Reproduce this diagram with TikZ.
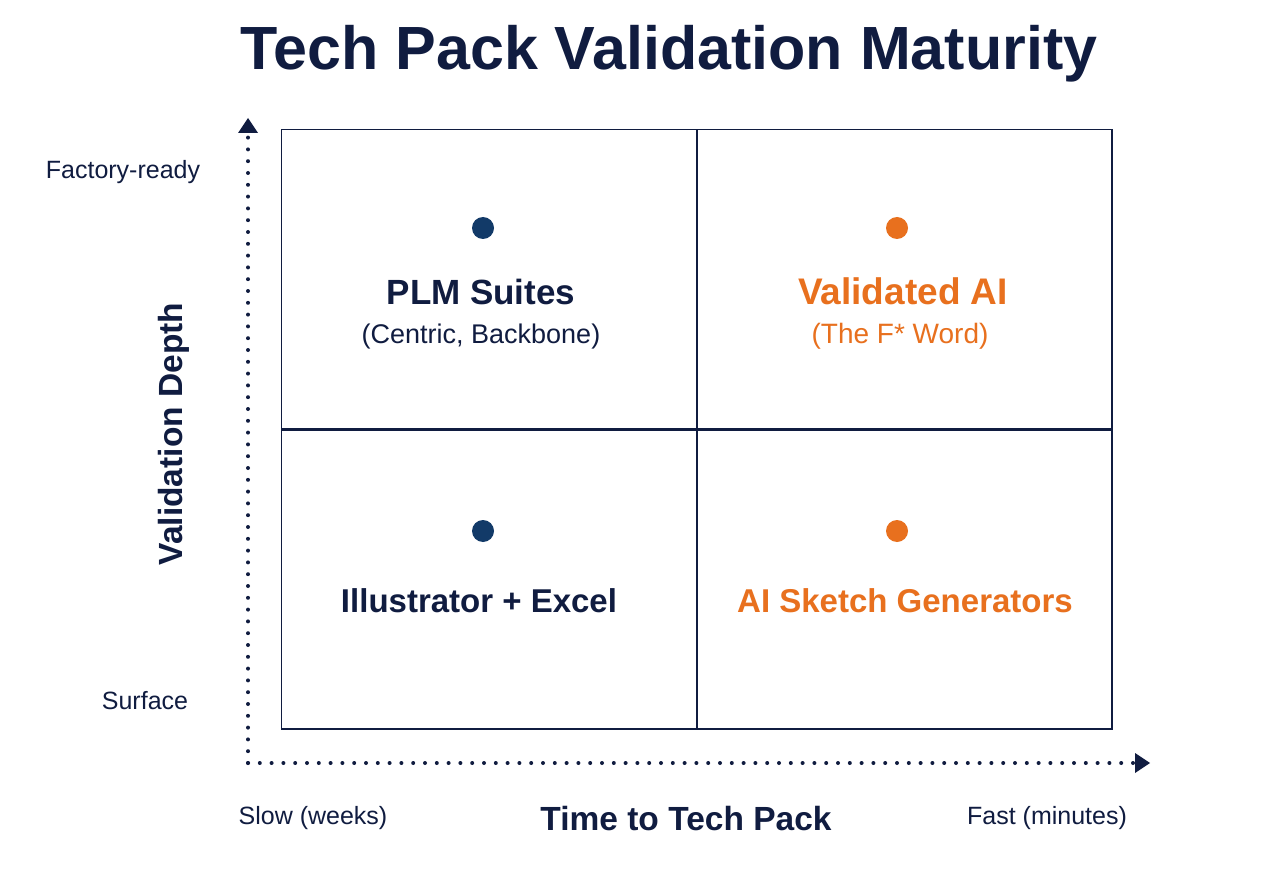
\documentclass[tikz,border=0pt]{standalone}
\usepackage{fontspec}
\setmainfont{Liberation Sans}
\usetikzlibrary{arrows.meta,positioning}
\definecolor{navy}{HTML}{101C40}
\definecolor{dotblue}{HTML}{123A68}
\definecolor{aiorange}{HTML}{E8701E}
\newcommand{\fsz}[1]{\fontsize{#1}{#1}\selectfont}

\begin{document}
\begin{tikzpicture}[x=1pt,y=-1pt,
  quad/.style={draw=navy, line width=1.4pt, minimum width=414.5pt, minimum height=299pt, inner sep=0pt},
  axis/.style={navy, line width=4pt, line cap=round, dash pattern=on 0pt off 11.8pt, -{Triangle[width=20pt,length=15pt,line width=0pt]}},
  bigdot/.style={circle, inner sep=0pt, minimum size=22pt},
  qlabel/.style={anchor=base, font=\fsz{35}\bfseries},
  qsub/.style={anchor=base, font=\fsz{27}},
  ticklab/.style={anchor=base, navy, font=\fsz{25}},
  axislab/.style={anchor=base, navy, font=\fsz{33.5}\bfseries}]
  \useasboundingbox [fill=white] (0,0) rectangle (1280,896);

  \node [anchor=base, navy, font=\fsz{61}\bfseries] (title) at (669,70) {Tech Pack Validation Maturity};

  \node [quad, anchor=north west] (tl) at (281,129) {};
  \node [quad, anchor=west] (tr) at (tl.east) {};
  \node [quad, anchor=north] (bl) at (tl.south) {};
  \node [quad, anchor=west] (br) at (bl.east) {};

  \node [bigdot, fill=dotblue]  (dtl) at (483,228) {};
  \node [bigdot, fill=aiorange] (dtr) at (897,228) {};
  \node [bigdot, fill=dotblue]  (dbl) at (483,531) {};
  \node [bigdot, fill=aiorange] (dbr) at (897,531) {};

  \node [qlabel, navy] (plm) at (481,305) {PLM Suites};
  \node [qsub, navy] (plmsub) at (481,343) {(Centric, Backbone)};
  \node [qlabel, aiorange, font=\fsz{37}\bfseries] (vai) at (903,305) {Validated AI};
  \node [qsub, aiorange, font=\fsz{28}] (vaisub) at (900,343) {(The F* Word)};
  \node [qlabel, navy, font=\fsz{33}\bfseries] (ill) at (479,612) {Illustrator + Excel};
  \node [qlabel, aiorange, font=\fsz{33}\bfseries] (gen) at (905,612) {AI Sketch Generators};

  \coordinate (origin) at (248,763);
  \coordinate (ytop) at (248,118);
  \coordinate (xend) at (1150,763);
  \draw [axis] (origin) -- (ytop);
  \draw [axis] (origin) -- (xend);

  \node [ticklab] (hi) at (123,179) {Factory-ready};
  \node [ticklab] (lo) at (145,709) {Surface};
  \node [ticklab] (slow) at (313,824) {Slow (weeks)};
  \node [ticklab] (fast) at (1047,824) {Fast (minutes)};
  \node [axislab] (xlab) at (686,830) {Time to Tech Pack};
  \node [axislab, rotate=90] (ylab) at (182,434) {Validation Depth};
\end{tikzpicture}
\end{document}
